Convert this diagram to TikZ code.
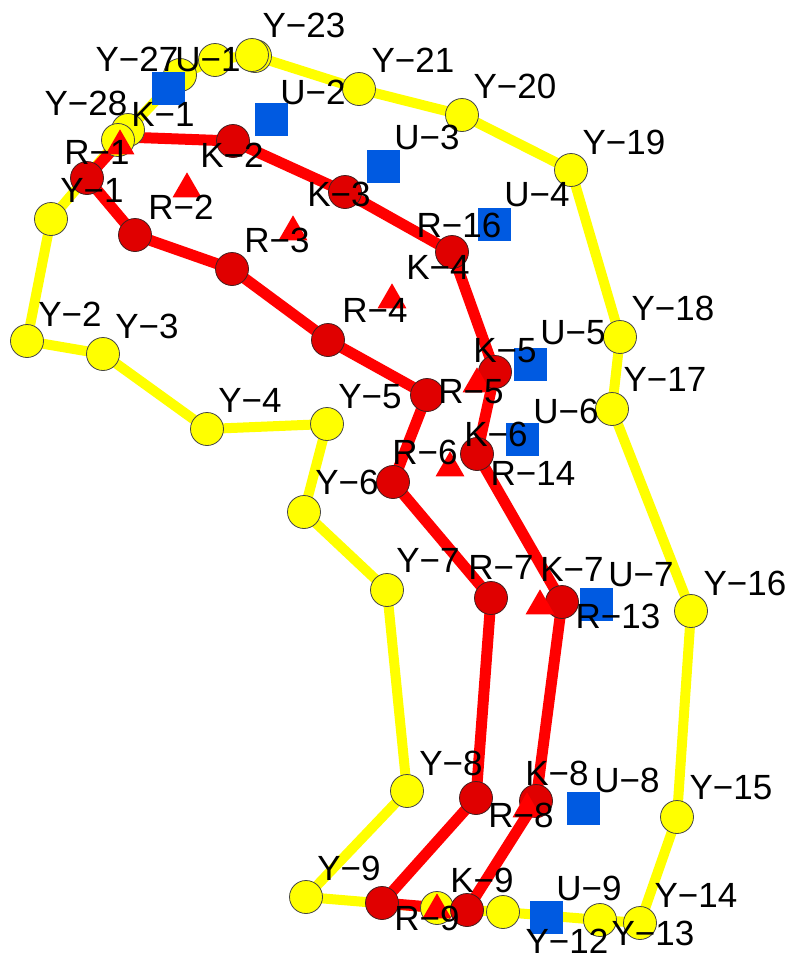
\documentclass[tikz,border=0pt]{standalone}
\usepackage{fontspec}
\setmainfont{Liberation Sans}
\usetikzlibrary{shapes.geometric}
\pgfdeclarelayer{background}
\pgfsetlayers{background,main}

\tikzset{every picture/.style={line width=0.75pt}}
\tikzset{
	ypoint/.style={circle, draw={rgb, 255:red, 70; green, 70; blue, 70 }, line width=0.6pt, fill={rgb, 255:red, 255; green, 255; blue, 0 }, minimum size=24.75pt, inner sep=0pt},
	rpoint/.style={circle, draw={rgb, 255:red, 70; green, 30; blue, 30 }, line width=0.6pt, fill={rgb, 255:red, 224; green, 0; blue, 0 }, minimum size=24.75pt, inner sep=0pt},
	kpoint/.style={regular polygon, regular polygon sides=3, fill={rgb, 255:red, 255; green, 0; blue, 0 }, minimum size=25pt, inner sep=0pt},
	upoint/.style={rectangle, fill={rgb, 255:red, 0; green, 90; blue, 225 }, minimum size=24.75pt, inner sep=0pt},
	yline/.style={draw={rgb, 255:red, 255; green, 255; blue, 0 }, line width=7.5pt, line join=round},
	rline/.style={draw={rgb, 255:red, 255; green, 0; blue, 0 }, line width=8.25pt, line join=round},
	lbl/.style={font=\fontsize{26.25}{31}\selectfont, inner sep=0pt}
}

\begin{document}
\begin{tikzpicture}[x=0.75pt,y=0.75pt,yscale=-1,xscale=1]
	\useasboundingbox (0,0) rectangle (793,961);

	%Shape: Circle (yellow outline)
	\node [ypoint] (y1) at (51,219) {};
	\node [ypoint] (y2) at (27,341) {};
	\node [ypoint] (y3) at (103,354) {};
	\node [ypoint] (y4) at (207,429) {};
	\node [ypoint] (y5) at (327,424) {};
	\node [ypoint] (y6) at (304,512) {};
	\node [ypoint] (y7) at (387,590) {};
	\node [ypoint] (y8) at (407,791) {};
	\node [ypoint] (y9) at (306,897) {};
	\node [ypoint] (y10) at (437,908) {};
	\node [ypoint] (y11) at (503,912) {};
	\node [ypoint] (y12) at (600,920) {};
	\node [ypoint] (y13) at (640,923) {};
	\node [ypoint] (y15) at (677,817) {};
	\node [ypoint] (y16) at (691,611) {};
	\node [ypoint] (y17) at (612,409) {};
	\node [ypoint] (y18) at (620,337) {};
	\node [ypoint] (y19) at (571,170) {};
	\node [ypoint] (y20) at (462,115) {};
	\node [ypoint] (y21) at (359,89) {};
	\node [ypoint] (y22) at (255,56) {};
	\node [ypoint] (y23) at (252,55) {};
	\node [ypoint] (y25) at (215,60) {};
	\node [ypoint] (y27) at (180,75) {};
	\node [ypoint] (y28) at (128,130) {};
	\node [ypoint] (y29) at (118,140) {};

	%Shape: Circle (red outline)
	\node [rpoint] (r1) at (87,178) {};
	\node [rpoint] (r2) at (135,235) {};
	\node [rpoint] (r3) at (232,269) {};
	\node [rpoint] (r4) at (328,340) {};
	\node [rpoint] (r5) at (427,395) {};
	\node [rpoint] (r6) at (393,482) {};
	\node [rpoint] (r7) at (491,598) {};
	\node [rpoint] (r8) at (476,798) {};
	\node [rpoint] (r9) at (382,903) {};
	\node [rpoint] (r10) at (467,910) {};
	\node [rpoint] (r11) at (536,801) {};
	\node [rpoint] (r13) at (562,602) {};
	\node [rpoint] (r14) at (477,454) {};
	\node [rpoint] (r15) at (495,372) {};
	\node [rpoint] (r16) at (452,252) {};
	\node [rpoint] (r17) at (345,192) {};
	\node [rpoint] (r18) at (233,141) {};
	\coordinate (r19) at (124,137);

	%Shape: Triangle
	\node [kpoint] (k1) at (120,146) {};
	\node [kpoint] (k2) at (187,189) {};
	\node [kpoint] (k3) at (293,232) {};
	\node [kpoint] (k4) at (392,300) {};
	\node [kpoint] (k5) at (477,384) {};
	\node [kpoint] (k6) at (450,468) {};
	\node [kpoint] (k7) at (540,606) {};
	\node [kpoint] (k8) at (527,809) {};
	\node [kpoint] (k9) at (437,910) {};

	%Shape: Square
	\node [upoint] (u1) at (168,88) {};
	\node [upoint] (u2) at (271,119) {};
	\node [upoint] (u3) at (383,166) {};
	\node [upoint] (u4) at (494,224) {};
	\node [upoint] (u5) at (530,364) {};
	\node [upoint] (u6) at (522,439) {};
	\node [upoint] (u7) at (596,604) {};
	\node [upoint] (u8) at (583,808) {};
	\node [upoint] (u9) at (546,917) {};

	%Lines under the points
	\begin{pgfonlayer}{background}
	\draw [yline] (y1.center) -- (y2.center) -- (y3.center) -- (y4.center) -- (y5.center) -- (y6.center) -- (y7.center) -- (y8.center) -- (y9.center) -- (y10.center) -- (y11.center) -- (y12.center) -- (y13.center) -- (y15.center) -- (y16.center) -- (y17.center) -- (y18.center) -- (y19.center) -- (y20.center) -- (y21.center) -- (y22.center) -- (y23.center) -- (y25.center) -- (y27.center) -- (y28.center) -- (y29.center) -- cycle ;
	\draw [rline] (r1.center) -- (r2.center) -- (r3.center) -- (r4.center) -- (r5.center) -- (r6.center) -- (r7.center) -- (r8.center) -- (r9.center) -- (r10.center) -- (r11.center) -- (r13.center) -- (r14.center) -- (r15.center) -- (r16.center) -- (r17.center) -- (r18.center) -- (r19) -- cycle ;
	\end{pgfonlayer}

	% Text Node
	\node [lbl] (tY23) at (304,25) {Y−23};
	\node [lbl] (tY27) at (137,59) {Y−27};
	\node [lbl] (tU1) at (208,60) {U−1};
	\node [lbl] (tY28) at (86,103) {Y−28};
	\node [lbl] (tK1) at (163,114) {K−1};
	\node [lbl] (tR1) at (97,152) {R−1};
	\node [lbl] (tY1) at (92,190) {Y−1};
	\node [lbl] (tK2) at (232,155) {K−2};
	\node [lbl] (tR2) at (181,207) {R−2};
	\node [lbl] (tU2) at (313,92) {U−2};
	\node [lbl] (tY21) at (413,60) {Y−21};
	\node [lbl] (tY20) at (515,86) {Y−20};
	\node [lbl] (tY19) at (624,142) {Y−19};
	\node [lbl] (tU3) at (427,137) {U−3};
	\node [lbl] (tK3) at (339,194) {K−3};
	\node [lbl] (tR3) at (277,240) {R−3};
	\node [lbl] (tU4) at (537,195) {U−4};
	\node [lbl] (tR16) at (459,225) {R−16};
	\node [lbl] (tK4) at (438,267) {K−4};
	\node [lbl] (tR4) at (375,310) {R−4};
	\node [lbl] (tY18) at (673,308) {Y−18};
	\node [lbl] (tU5) at (573,333) {U−5};
	\node [lbl] (tK5) at (505,351) {K−5};
	\node [lbl] (tR5) at (471,392) {R−5};
	\node [lbl] (tY17) at (665,379) {Y−17};
	\node [lbl] (tU6) at (566,411) {U−6};
	\node [lbl] (tK6) at (496,434) {K−6};
	\node [lbl] (tR6) at (425,452) {R−6};
	\node [lbl] (tR14) at (533,473) {R−14};
	\node [lbl] (tY2) at (70,314) {Y−2};
	\node [lbl] (tY3) at (147,326) {Y−3};
	\node [lbl] (tY4) at (250,400) {Y−4};
	\node [lbl] (tY5) at (370,397) {Y−5};
	\node [lbl] (tY6) at (347,482) {Y−6};
	\node [lbl] (tY7) at (428,560) {Y−7};
	\node [lbl] (tR7) at (501,567) {R−7};
	\node [lbl] (tK7) at (572,569) {K−7};
	\node [lbl] (tU7) at (641,575) {U−7};
	\node [lbl] (tR13) at (618,616) {R−13};
	\node [lbl] (tY16) at (745,583) {Y−16};
	\node [lbl] (tY8) at (451,763) {Y−8};
	\node [lbl] (tK8) at (557,773) {K−8};
	\node [lbl] (tU8) at (627,780) {U−8};
	\node [lbl] (tR8) at (521,815) {R−8};
	\node [lbl] (tY15) at (731,788) {Y−15};
	\node [lbl] (tY9) at (349,868) {Y−9};
	\node [lbl] (tK9) at (482,880) {K−9};
	\node [lbl] (tU9) at (589,888) {U−9};
	\node [lbl] (tR9) at (427,918) {R−9};
	\node [lbl] (tY12) at (567,941) {Y−12};
	\node [lbl] (tY13) at (653,933) {Y−13};
	\node [lbl] (tY14) at (696,895) {Y−14};

\end{tikzpicture}
\end{document}
